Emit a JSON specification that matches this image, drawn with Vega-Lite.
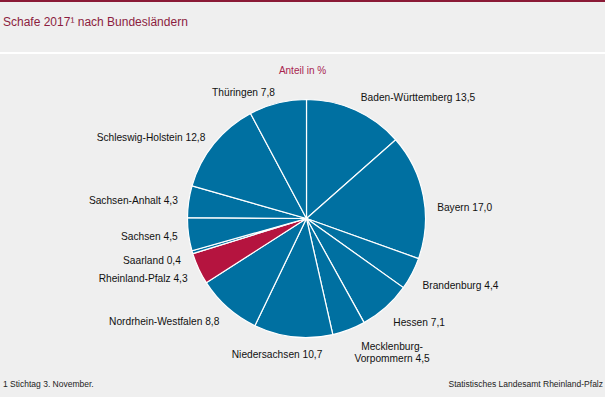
{
  "$schema": "https://vega.github.io/schema/vega-lite/v6.json",
  "background": "#efefef",
  "padding": 0,
  "spacing": 0,
  "config": {
    "view": {"stroke": null},
    "font": "Liberation Sans",
    "concat": {"spacing": 0},
    "title": {"fontWeight": "normal", "baseline": "alphabetic", "frame": "group", "font": "Liberation Sans"}
  },
  "datasets": {
    "empty": [],
    "schafe": [
      {"order": 1, "land": "Baden-Württemberg", "value": 13.5, "label": "Baden-Württemberg 13,5"},
      {"order": 2, "land": "Bayern", "value": 17.0, "label": "Bayern 17,0"},
      {"order": 3, "land": "Brandenburg", "value": 4.4, "label": "Brandenburg 4,4"},
      {"order": 4, "land": "Hessen", "value": 7.1, "label": "Hessen 7,1"},
      {"order": 5, "land": "Mecklenburg-Vorpommern", "value": 4.5, "label": "Mecklenburg-\nVorpommern 4,5"},
      {"order": 6, "land": "Niedersachsen", "value": 10.7, "label": "Niedersachsen 10,7"},
      {"order": 7, "land": "Nordrhein-Westfalen", "value": 8.8, "label": "Nordrhein-Westfalen 8,8"},
      {"order": 8, "land": "Rheinland-Pfalz", "value": 4.3, "label": "Rheinland-Pfalz 4,3"},
      {"order": 9, "land": "Saarland", "value": 0.4, "label": "Saarland 0,4"},
      {"order": 10, "land": "Sachsen", "value": 4.5, "label": "Sachsen 4,5"},
      {"order": 11, "land": "Sachsen-Anhalt", "value": 4.3, "label": "Sachsen-Anhalt 4,3"},
      {"order": 12, "land": "Schleswig-Holstein", "value": 12.8, "label": "Schleswig-Holstein 12,8"},
      {"order": 13, "land": "Thüringen", "value": 7.8, "label": "Thüringen 7,8"}
    ]
  },
  "vconcat": [
    {"width": 605, "height": 2, "view": {"fill": "#8b1a36"}, "data": {"name": "empty"}, "mark": "point"},
    {"width": 605, "height": 50, "data": {"name": "empty"}, "mark": "point",
     "title": {"text": "Schafe 2017¹ nach Bundesländern", "anchor": "start", "offset": -27, "fontSize": 12, "color": "#8c1d40", "dx": 3}},
    {"width": 605, "height": 2, "view": {"fill": "#ffffff"}, "data": {"name": "empty"}, "mark": "point"},
    {"width": 605, "height": 323,
     "title": {"text": "Anteil in %", "anchor": "middle", "offset": -21.5, "fontSize": 10, "color": "#a8234e"},
     "data": {"name": "schafe"},
     "layer": [
       {"mark": {"type": "arc", "radius": 119, "stroke": "#ffffff", "strokeWidth": 1.2, "xOffset": 4, "yOffset": 3},
        "encoding": {
          "theta": {"field": "value", "type": "quantitative", "stack": true},
          "order": {"field": "order", "type": "quantitative"},
          "color": {"condition": {"test": "datum.land === 'Rheinland-Pfalz'", "value": "#b5143f"}, "value": "#0070a1"}
        }},
       {"mark": {"type": "text", "radius": 132, "align": "left", "baseline": "middle", "xOffset": 4, "yOffset": 3, "fontSize": 10.2, "color": "#111111"},
        "encoding": {
          "theta": {"field": "value", "type": "quantitative", "stack": true},
          "order": {"field": "order", "type": "quantitative"},
          "text": {"condition": {"test": "datum.land === 'Baden-Württemberg'", "field": "label", "type": "nominal"}, "value": ""}
        }},
       {"mark": {"type": "text", "radius": 132, "align": "left", "baseline": "middle", "xOffset": 5, "yOffset": 17, "fontSize": 10.2, "color": "#111111"},
        "encoding": {
          "theta": {"field": "value", "type": "quantitative", "stack": true},
          "order": {"field": "order", "type": "quantitative"},
          "text": {"condition": {"test": "datum.land === 'Bayern'", "field": "label", "type": "nominal"}, "value": ""}
        }},
       {"mark": {"type": "text", "radius": 132, "align": "left", "baseline": "middle", "xOffset": 3, "yOffset": 9, "fontSize": 10.2, "color": "#111111"},
        "encoding": {
          "theta": {"field": "value", "type": "quantitative", "stack": true},
          "order": {"field": "order", "type": "quantitative"},
          "text": {"condition": {"test": "indexof(['Brandenburg','Hessen'], datum.land) >= 0", "field": "label", "type": "nominal"}, "value": ""}
        }},
       {"mark": {"type": "text", "radius": 128, "align": "center", "baseline": "top", "lineBreak": "\n", "dx": 40, "xOffset": 4, "yOffset": 7, "fontSize": 10.2, "color": "#111111"},
        "encoding": {
          "theta": {"field": "value", "type": "quantitative", "stack": true},
          "order": {"field": "order", "type": "quantitative"},
          "text": {"condition": {"test": "datum.land === 'Mecklenburg-Vorpommern'", "field": "label", "type": "nominal"}, "value": ""}
        }},
       {"mark": {"type": "text", "radius": 128, "align": "center", "baseline": "top", "dx": -15, "xOffset": 4, "yOffset": 7, "fontSize": 10.2, "color": "#111111"},
        "encoding": {
          "theta": {"field": "value", "type": "quantitative", "stack": true},
          "order": {"field": "order", "type": "quantitative"},
          "text": {"condition": {"test": "datum.land === 'Niedersachsen'", "field": "label", "type": "nominal"}, "value": ""}
        }},
       {"mark": {"type": "text", "radius": 130, "align": "right", "baseline": "middle", "xOffset": 3, "yOffset": 9, "fontSize": 10.2, "color": "#111111"},
        "encoding": {
          "theta": {"field": "value", "type": "quantitative", "stack": true},
          "order": {"field": "order", "type": "quantitative"},
          "text": {"condition": {"test": "indexof(['Nordrhein-Westfalen','Rheinland-Pfalz','Saarland'], datum.land) >= 0", "field": "label", "type": "nominal"}, "value": ""}
        }},
       {"mark": {"type": "text", "radius": 130, "align": "right", "baseline": "middle", "xOffset": 4, "yOffset": 4, "fontSize": 10.2, "color": "#111111"},
        "encoding": {
          "theta": {"field": "value", "type": "quantitative", "stack": true},
          "order": {"field": "order", "type": "quantitative"},
          "text": {"condition": {"test": "indexof(['Sachsen','Sachsen-Anhalt','Schleswig-Holstein','Thüringen'], datum.land) >= 0", "field": "label", "type": "nominal"}, "value": ""}
        }}
     ]},
    {"hconcat": [
      {"width": 302, "height": 20, "data": {"name": "empty"}, "mark": "point",
       "title": {"text": "1 Stichtag 3. November.", "anchor": "start", "offset": -11, "fontSize": 8.5, "color": "#222222", "dx": 3}},
      {"width": 303, "height": 20, "data": {"name": "empty"}, "mark": "point",
       "title": {"text": "Statistisches Landesamt Rheinland-Pfalz", "anchor": "end", "offset": -11, "fontSize": 8.5, "color": "#222222", "dx": -2}}
    ]}
  ]
}
